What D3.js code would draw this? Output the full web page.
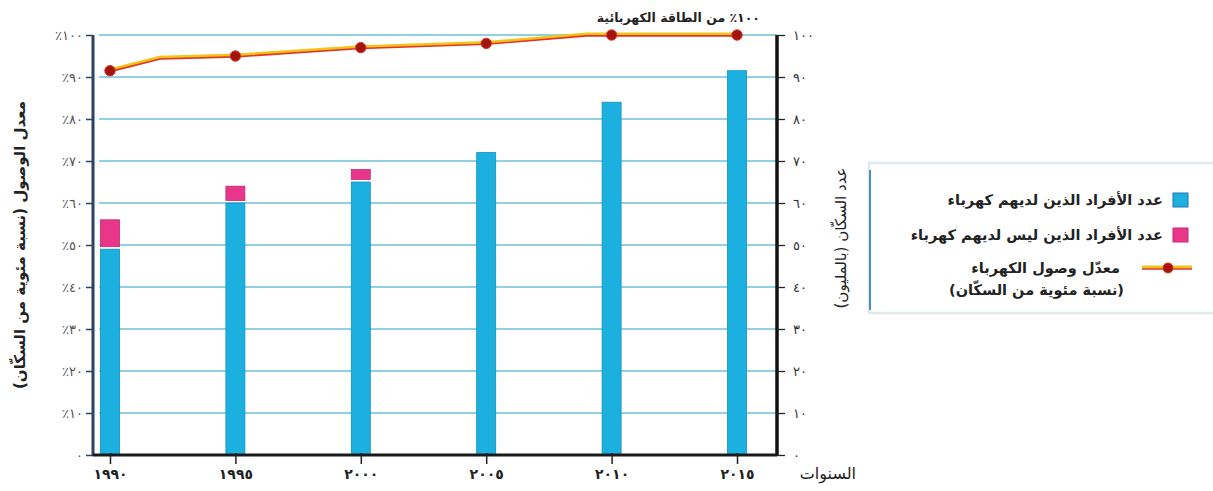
<!DOCTYPE html>
<html><head><meta charset="utf-8">
<script src="https://cdn.jsdelivr.net/npm/d3@7/dist/d3.min.js"></script>
<style>
html,body{margin:0;padding:0;background:#fff;}
svg{display:block;font-family:"DejaVu Sans",sans-serif;}
</style></head>
<body><svg id="c" width="1213" height="491"></svg>
<script>
// ---- data ----
const years = [1990, 1995, 2000, 2005, 2010, 2015];
const yearLabels = ["١٩٩٠", "١٩٩٥", "٢٠٠٠", "٢٠٠٥", "٢٠١٠", "٢٠١٥"];
const withElectricity = [49, 60, 65, 72, 84, 91.5];      // blue bars
const withoutElectricity = [7, 4, 3, 0, 0, 0];          // pink bars
const accessYears = [1990, 1992, 1995, 2000, 2005, 2009, 2010, 2015];
const accessRate = [91.5, 94.5, 95, 97, 98, 100, 100, 100];
const markerYears = [1990, 1995, 2000, 2005, 2010, 2015];
const yTicks = [0, 10, 20, 30, 40, 50, 60, 70, 80, 90, 100];
const leftTickLabels = ["٠", "٪١٠", "٪٢٠", "٪٣٠", "٪٤٠", "٪٥٠", "٪٦٠", "٪٧٠", "٪٨٠", "٪٩٠", "٪١٠٠"];
const rightTickLabels = ["٠", "١٠", "٢٠", "٣٠", "٤٠", "٥٠", "٦٠", "٧٠", "٨٠", "٩٠", "١٠٠"];
const legendLabels = ["عدد الأفراد الذين لديهم كهرباء", "عدد الأفراد الذين ليس لديهم كهرباء", "معدّل وصول الكهرباء", "(نسبة مئوية من السكّان)"];
const titleText = "١٠٠٪ من الطاقة الكهربائية";
const leftAxisTitle = "معدل الوصول (نسبة مئوية من السكّان)";
const rightAxisTitle = "عدد السكّان (بالمليون)";
const xAxisTitle = "السنوات";

// ---- layout ----
const svg = d3.select("#c");
const X0 = 93, X1 = 777, Y0 = 455, Y1 = 35;
const x = d3.scaleLinear().domain([1990, 2015]).range([110, 737]);
const y = d3.scaleLinear().domain([0, 100]).range([Y0, Y1]);
const blue = "#1cb0e0", blueEdge = "#1590bb", pink = "#e8378a", pinkEdge = "#c42a70";
const grid = "#6cc0d8";

// gridlines
svg.append("g").selectAll("line").data(yTicks.filter(d => d > 0)).join("line")
  .attr("x1", X0 + 6).attr("x2", X1).attr("y1", d => y(d)).attr("y2", d => y(d))
  .attr("stroke", grid).attr("stroke-width", 1.6);

// bars
const bw = 19;
const bars = svg.append("g");
years.forEach((yr, i) => {
  const v = withElectricity[i], w = withoutElectricity[i];
  bars.append("rect").attr("x", x(yr) - bw / 2).attr("width", bw)
    .attr("y", y(v)).attr("height", y(0) - y(v))
    .attr("fill", blue).attr("stroke", blueEdge).attr("stroke-width", 0.8);
  if (w > 0) {
    bars.append("rect").attr("x", x(yr) - bw / 2).attr("width", bw)
      .attr("y", y(v + w)).attr("height", y(v) - y(v + w) - 2.5)
      .attr("fill", pink).attr("stroke", pinkEdge).attr("stroke-width", 0.8);
  }
});

// left axis
const leftAxis = d3.axisLeft(y).tickValues(yTicks).tickSize(7).tickFormat((d, i) => leftTickLabels[i]);
const gl = svg.append("g").attr("transform", `translate(${X0},0)`).call(leftAxis);
gl.select(".domain").attr("stroke", "#2a4360").attr("stroke-width", 3).attr("d", `M0,${Y1}V${Y0}`);
gl.selectAll(".tick line").attr("stroke", "#2a4360").attr("stroke-width", 1.5);
gl.selectAll(".tick text").attr("font-size", 13).attr("fill", "#555")
  .attr("x", -10).style("font-family", "DejaVu Sans");

// right axis
const rightAxis = d3.axisRight(y).tickValues(yTicks).tickSize(8).tickFormat((d, i) => rightTickLabels[i]);
const gr = svg.append("g").attr("transform", `translate(${X1},0)`).call(rightAxis);
gr.select(".domain").attr("stroke", "#111").attr("stroke-width", 3.5).attr("d", `M0,${Y1}V${Y0}`);
gr.selectAll(".tick line").attr("stroke", "#222").attr("stroke-width", 1.3);
gr.selectAll(".tick text").attr("font-size", 13).attr("fill", "#333")
  .attr("x", 16).style("font-family", "DejaVu Sans");

// bottom axis
const bottomAxis = d3.axisBottom(x).tickValues(years).tickSize(9).tickFormat((d, i) => yearLabels[i]);
const gb = svg.append("g").attr("transform", `translate(0,${Y0})`).call(bottomAxis);
gb.select(".domain").attr("stroke", "#1a1a1a").attr("stroke-width", 3).attr("d", `M${X0},0H${X1}`);
gb.selectAll(".tick line").attr("stroke", "#222").attr("stroke-width", 1.5).attr("y1", -2);
gb.selectAll(".tick text").attr("font-size", 14).attr("font-weight", "bold").attr("fill", "#222")
  .attr("y", 14).style("font-family", "DejaVu Sans");

// access rate line
const line = d3.line().x((d, i) => x(accessYears[i])).y(d => y(d));
svg.append("path").datum(accessRate).attr("d", line).attr("fill", "none")
  .attr("stroke", "#f2c318").attr("stroke-width", 3.2).attr("stroke-linejoin", "round")
  .attr("transform", "translate(0,-0.8)");
svg.append("path").datum(accessRate).attr("d", line).attr("fill", "none")
  .attr("stroke", "#e2352a").attr("stroke-width", 1.6).attr("stroke-linejoin", "round")
  .attr("transform", "translate(0,0.9)");
svg.append("g").selectAll("circle").data(markerYears).join("circle")
  .attr("cx", d => x(d)).attr("cy", d => y(accessRate[accessYears.indexOf(d)]))
  .attr("r", 5.2).attr("fill", "#a3140f").attr("stroke", "#d9341f").attr("stroke-width", 1);

// title
svg.append("text").attr("x", 760).attr("y", 22).attr("direction", "rtl").attr("text-anchor", "start")
  .attr("font-size", 12.5).attr("font-weight", "bold").attr("fill", "#222").text(titleText);

// axis titles
svg.append("text").attr("transform", "translate(25,245) rotate(-90)").attr("text-anchor", "middle")
  .attr("direction", "rtl").attr("font-size", 15).attr("font-weight", "bold").attr("fill", "#222").text(leftAxisTitle);
svg.append("text").attr("transform", "translate(846,238) rotate(-90)").attr("text-anchor", "middle")
  .attr("direction", "rtl").attr("font-size", 15).attr("fill", "#222").text(rightAxisTitle);
svg.append("text").attr("x", 856).attr("y", 479).attr("direction", "rtl").attr("text-anchor", "start")
  .attr("font-size", 16).attr("fill", "#222").text(xAxisTitle);

// legend
const lg = svg.append("g");
lg.append("rect").attr("x", 869).attr("y", 163).attr("width", 360).attr("height", 150)
  .attr("fill", "#fff").attr("stroke", "#dfe9ec").attr("stroke-width", 2.5);
lg.append("line").attr("x1", 870).attr("x2", 870).attr("y1", 170).attr("y2", 310)
  .attr("stroke", "#4a8fb8").attr("stroke-width", 2);
lg.append("rect").attr("x", 1173).attr("y", 193).attr("width", 15).attr("height", 14)
  .attr("fill", blue).attr("stroke", "#2277aa").attr("stroke-width", 1);
lg.append("rect").attr("x", 1173).attr("y", 228).attr("width", 15).attr("height", 14)
  .attr("fill", pink).attr("stroke", pinkEdge).attr("stroke-width", 1);
lg.append("line").attr("x1", 1142).attr("x2", 1192).attr("y1", 267).attr("y2", 267)
  .attr("stroke", "#f2c318").attr("stroke-width", 3);
lg.append("line").attr("x1", 1142).attr("x2", 1192).attr("y1", 269).attr("y2", 269)
  .attr("stroke", "#e2352a").attr("stroke-width", 1.5);
lg.append("circle").attr("cx", 1168).attr("cy", 268).attr("r", 5).attr("fill", "#a3140f").attr("stroke", "#d9341f");
const ly = [205, 240, 273, 295];
const lx = [1163, 1163, 1120, 1124];
legendLabels.forEach((t, i) => {
  lg.append("text").attr("x", lx[i]).attr("y", ly[i]).attr("direction", "rtl").attr("text-anchor", "start")
    .attr("font-size", 14.5).attr("font-weight", "bold").attr("fill", "#222").text(t);
});
</script></body></html>
